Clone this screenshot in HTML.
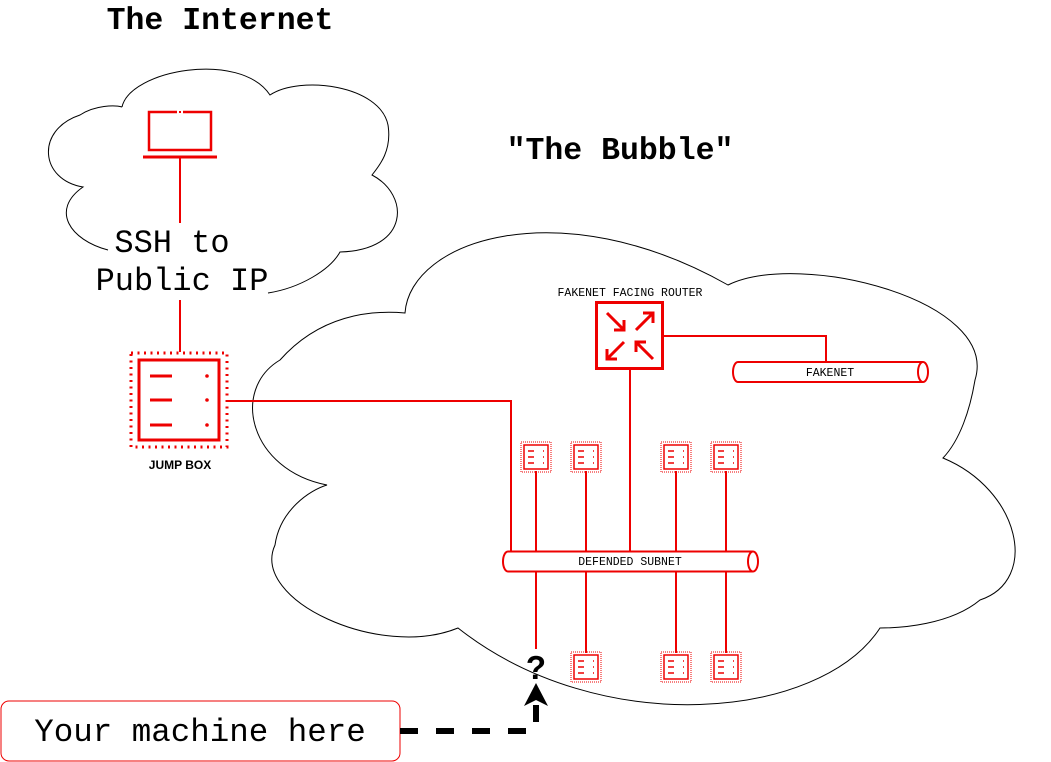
<!DOCTYPE html>
<html><head><style>body{margin:0;background:#fff}svg{display:block}</style></head><body>
<svg width="1051" height="762" viewBox="0 0 1051 762" xmlns="http://www.w3.org/2000/svg">
<defs>
<g id="srv">
<rect x="0" y="0" width="30" height="30" fill="none" stroke="#e00" stroke-width="1" stroke-dasharray="1,1"/>
<rect x="3" y="3" width="24" height="24" fill="#fff" stroke="#e00" stroke-width="1.5"/>
<path d="M7 9h6M7 15h6M7 21h6M22 9h1M22 15h1M22 21h1" stroke="#e00" stroke-width="1.5"/>
</g>
</defs>
<text x="220" y="29" font-family="Liberation Mono,monospace" font-weight="bold" font-size="31.5" text-anchor="middle">The Internet</text>
<text x="620" y="159" font-family="Liberation Mono,monospace" font-weight="bold" font-size="31.5" text-anchor="middle">"The Bubble"</text>
<!-- internet cloud -->
<path d="M122 107 C130 70 240 50 270 95 C300 75 380 85 388 125 C392 150 380 165 372 175 C410 195 410 250 340 252 C330 270 300 288 268 293 M108 250 C70 240 50 210 83 187 C40 180 35 130 80 115 C95 105 115 105 122 107" fill="none" stroke="#000" stroke-width="1"/>
<!-- bubble cloud -->
<path d="M405 313 C410 240 560 190 728 285 C800 250 1000 300 975 380 C970 410 960 440 943 458 C1020 490 1040 580 980 600 C950 625 900 628 880 628 C820 720 600 740 458 628 C380 660 250 600 275 545 C280 510 310 490 327 485 C250 470 230 390 280 360 C320 315 370 310 405 313 Z" fill="none" stroke="#000" stroke-width="1"/>
<!-- laptop -->
<path d="M177 112 H149 V150 H211 V112 H183" fill="none" stroke="#e00" stroke-width="2.5"/>
<rect x="179" y="111" width="2" height="2" fill="#e00"/>
<path d="M143 157 H217" stroke="#e00" stroke-width="3"/>
<path d="M180 158 V223 M180 300 V352" stroke="#e00" stroke-width="2"/>
<text x="172" y="252" font-family="Liberation Mono,monospace" font-size="32" text-anchor="middle">SSH to</text>
<text x="182" y="290" font-family="Liberation Mono,monospace" font-size="32" text-anchor="middle">Public IP</text>
<!-- jump box -->
<rect x="131" y="353" width="96" height="94" fill="none" stroke="#e00" stroke-width="3" stroke-dasharray="2,4.5"/>
<rect x="139" y="360" width="80" height="80" fill="#fff" stroke="#e00" stroke-width="3"/>
<path d="M150 376h22M150 400h22M150 425h22" stroke="#e00" stroke-width="3"/>
<circle cx="207" cy="376" r="1.8" fill="#e00"/><circle cx="207" cy="400" r="1.8" fill="#e00"/><circle cx="207" cy="425" r="1.8" fill="#e00"/>
<text x="180" y="469" font-family="Liberation Sans,sans-serif" font-weight="bold" font-size="12" text-anchor="middle">JUMP BOX</text>
<!-- lines -->
<g stroke="#e00" stroke-width="2" fill="none">
<path d="M228 401 H511 V551"/>
<path d="M630 369 V551"/>
<path d="M663 336 H826 V361"/>
<path d="M536 471V551M586 471V551M676 471V551M726 471V551"/>
<path d="M536 572V649M586 572V653M676 572V653M726 572V653"/>
</g>
<!-- router -->
<text x="630" y="296" font-family="Liberation Mono,monospace" font-size="11.5" text-anchor="middle">FAKENET FACING ROUTER</text>
<rect x="596.5" y="302.5" width="66" height="66" fill="#fff" stroke="#e00" stroke-width="3"/>
<g stroke="#e00" stroke-width="3" fill="none">
<path d="M607 313 L624 330 M614 330 H624 V320"/>
<path d="M636 330 L653 313 M643 313 H653 V323"/>
<path d="M624 342 L607 359 M607 349 V359 H617"/>
<path d="M653 359 L636 342 M636 352 V342 H646"/>
</g>
<!-- fakenet -->
<path d="M738 362 H923 A5 10 0 0 1 923 382 H738 A5 10 0 0 1 738 362 Z" fill="#fff" stroke="#e00" stroke-width="2"/>
<path d="M923 362 A5 10 0 0 0 923 382" fill="none" stroke="#e00" stroke-width="2"/>
<text x="830" y="376" font-family="Liberation Mono,monospace" font-size="11.5" text-anchor="middle">FAKENET</text>
<!-- defended subnet -->
<path d="M508 551.5 H753 A5 10 0 0 1 753 571.5 H508 A5 10 0 0 1 508 551.5 Z" fill="#fff" stroke="#e00" stroke-width="2"/>
<path d="M753 551.5 A5 10 0 0 0 753 571.5" fill="none" stroke="#e00" stroke-width="2"/>
<text x="630" y="565" font-family="Liberation Mono,monospace" font-size="11.5" text-anchor="middle">DEFENDED SUBNET</text>
<use href="#srv" x="521" y="442"/><use href="#srv" x="571" y="442"/><use href="#srv" x="661" y="442"/><use href="#srv" x="711" y="442"/>
<use href="#srv" x="571" y="652"/><use href="#srv" x="661" y="652"/><use href="#srv" x="711" y="652"/>
<!-- your machine -->
<rect x="1" y="701" width="399" height="60" rx="8" fill="#fff" stroke="#e00" stroke-width="1"/>
<text x="200" y="741" font-family="Liberation Mono,monospace" font-size="32.5" text-anchor="middle">Your machine here</text>
<path d="M400 731 H527" stroke="#000" stroke-width="6" stroke-dasharray="18,18"/>
<path d="M536 722 V705" stroke="#000" stroke-width="6"/>
<path d="M536 683 L524 706 L536 700 L548 706 Z" fill="#000"/>
<text x="536" y="679" font-family="Liberation Sans,sans-serif" font-weight="bold" font-size="33" text-anchor="middle">?</text>
</svg>
</body></html>
